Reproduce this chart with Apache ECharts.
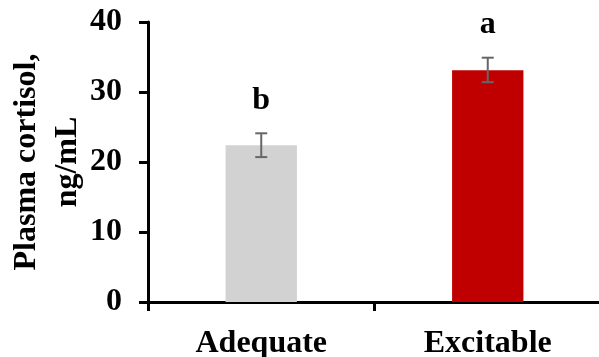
<!DOCTYPE html>
<html>
<head>
<meta charset="utf-8">
<script src="https://cdn.jsdelivr.net/npm/echarts@6/dist/echarts.min.js"></script>
<style>html,body{margin:0;padding:0;background:#fff;}#c{width:599px;height:357px;}</style>
</head>
<body>
<div id="c"></div>
<script>
var categories = ['Adequate', 'Excitable'];
var means = [22.4, 33.1];
var errLow = [20.7, 31.4];
var errHigh = [24.1, 34.9];
var letters = ['b', 'a'];
var barColors = ['#d2d2d2', '#c00000'];
var yTicks = [0, 10, 20, 30, 40];

var FONT = "'Liberation Serif', 'Times New Roman', serif";
var chart = echarts.init(document.getElementById('c'));
chart.setOption({
  animation: false,
  backgroundColor: '#fff',
  grid: { left: 148, right: -2, top: 22, bottom: 55, containLabel: false, outerBoundsMode: 'none' },
  xAxis: {
    type: 'category',
    data: categories,
    axisLine: { lineStyle: { color: '#000', width: 3 } },
    axisTick: { show: true, length: 9, lineStyle: { color: '#000', width: 3 } },
    axisLabel: { color: '#000', fontFamily: FONT, fontWeight: 'bold', fontSize: 32, margin: 26 }
  },
  yAxis: {
    type: 'value',
    min: yTicks[0],
    max: yTicks[yTicks.length - 1],
    interval: 10,
    name: 'Plasma cortisol,\nng/mL',
    nameLocation: 'middle',
    nameGap: 60,
    nameMoveOverlap: false,
    nameRotate: 90,
    nameTextStyle: { color: '#000', fontFamily: FONT, fontWeight: 'bold', fontSize: 32, lineHeight: 41 },
    splitLine: { show: false },
    axisLine: { show: true, lineStyle: { color: '#000', width: 3 } },
    axisTick: { show: true, length: 9, lineStyle: { color: '#000', width: 3 } },
    axisLabel: { color: '#000', fontFamily: FONT, fontWeight: 'bold', fontSize: 32, margin: 26 }
  },
  series: [
    {
      type: 'bar',
      barWidth: '31.5%',
      data: means.map(function (v, i) { return { value: v, itemStyle: { color: barColors[i] } }; })
    },
    {
      type: 'custom',
      data: categories.map(function (c, i) { return [i, errLow[i], errHigh[i]]; }),
      renderItem: function (params, api) {
        var i = api.value(0);
        var lo = api.coord([i, api.value(1)]);
        var hi = api.coord([i, api.value(2)]);
        var cap = 6;
        var st = { stroke: '#666', lineWidth: 2 };
        return {
          type: 'group',
          children: [
            { type: 'line', shape: { x1: hi[0], y1: hi[1], x2: lo[0], y2: lo[1] }, style: st },
            { type: 'line', shape: { x1: hi[0] - cap, y1: hi[1], x2: hi[0] + cap, y2: hi[1] }, style: st },
            { type: 'line', shape: { x1: lo[0] - cap, y1: lo[1], x2: lo[0] + cap, y2: lo[1] }, style: st },
            { type: 'text', style: { x: hi[0], y: hi[1] - 33, text: letters[params.dataIndex], fill: '#000',
                font: 'bold 32px ' + FONT, textAlign: 'center', textVerticalAlign: 'middle' } }
          ]
        };
      },
      z: 10
    }
  ]
});
</script>
</body>
</html>
